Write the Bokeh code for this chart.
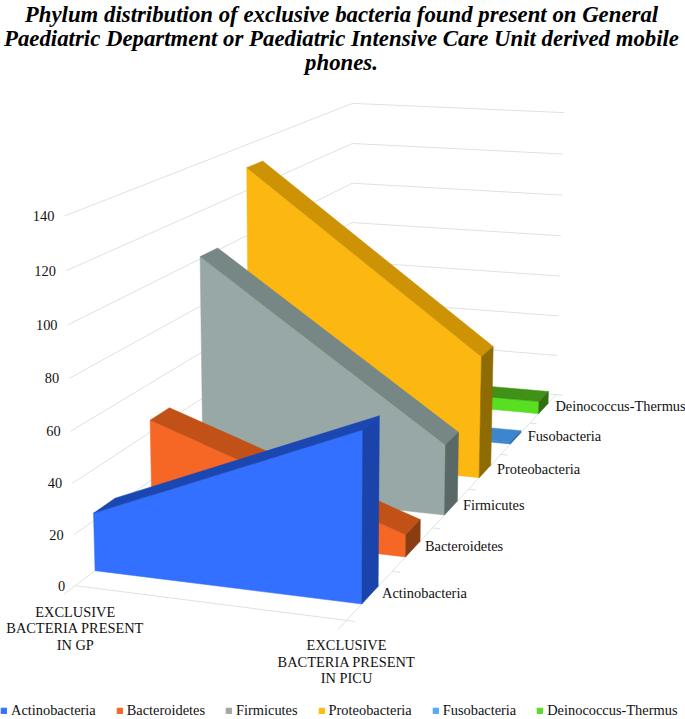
import numpy as np
from bokeh.plotting import figure
from bokeh.embed import file_html
from bokeh.resources import INLINE
from bokeh.core.properties import value
from bokeh.models import Legend, LegendItem

# ---- data ----
title_lines = ["Phylum distribution of exclusive bacteria found present on General",
               "Paediatric Department or Paediatric Intensive Care Unit derived mobile",
               "phones."]
categories = [["EXCLUSIVE", "BACTERIA PRESENT", "IN GP"],
              ["EXCLUSIVE", "BACTERIA PRESENT", "IN PICU"]]
series_names = ["Actinobacteria", "Bacteroidetes", "Firmicutes", "Proteobacteria", "Fusobacteria", "Deinococcus-Thermus"]
gp_values = [23, 45, 101, 130, 1, 6]
picu_values = [66, 9, 30, 54, 1, 6]
value_ticks = [0, 20, 40, 60, 80, 100, 120, 140]

front_colors = ["#3370FF", "#F66725", "#98A8A6", "#FCB711", "#3D86CE", "#58DF21"]
top_colors = ["#1B47B2", "#C25118", "#778786", "#CD9304", "#3D86CE", "#3F9216"]
side_colors = ["#1A44AC", "#8A3D11", "#5A6867", "#8E6C03", "#2F6AA5", "#326F10"]
legend_colors = ["#3370FF", "#F66725", "#A5A5A5", "#FFBC0F", "#55A8F5", "#5CDB2A"]
GRID = "#DAE4E2"
FONT = value("Liberation Serif")
LABEL = "14.4px"

# ---- camera: projective map (x category 0..1, value, depth 0..1) -> page pixels ----
VMAX = 140.0
calib = [((0, 0, 0), (75, 582.5)), ((1, 0, 0), (347, 622)), ((0, 0, 1), (350, 379.5)), ((1, 0, 1), (556, 392)),
         ((0, 140, 0), (63, 216.5)), ((0, 140, 1), (353.5, 102.5)), ((1, 140, 1), (563, 113)),
         ((0, 80, 0), (68, 378)), ((0, 80, 1), (352, 220.5)), ((1, 80, 1), (560, 235)), ((0, 40, 0), (72, 482.5))]
rows = []
for (x, v, z), (u, w) in calib:
    P = [x, v / VMAX, z, 1]
    rows.append(P + [0, 0, 0, 0] + [-u * a for a in P])
    rows.append([0, 0, 0, 0] + P + [-w * a for a in P])
M = np.linalg.svd(np.array(rows, float))[2][-1].reshape(3, 4)


def proj(x, v, z):
    q = M @ np.array([x, v / VMAX, z, 1.0])
    return q[0] / q[2], q[1] / q[2]


def poly(pts):
    out = [proj(*a) for a in pts]
    return [a[0] for a in out], [a[1] for a in out]


p = figure(width=685, height=719, x_range=(0, 685), y_range=(719, 0), output_backend="svg",
           toolbar_location=None, min_border=0, outline_line_color=None)
p.axis.visible = False
p.grid.visible = False

# walls
for v in value_ticks:
    xs, ys = poly([(0, v, 0), (0, v, 1), (1, v, 1)])
    p.line(xs, ys, line_color=GRID, line_width=1)
    lx, ly = proj(0, v, 0)
    p.text([lx - 10], [ly], text=[str(v)], text_font=FONT, text_font_size=LABEL, text_align="right",
           text_baseline="middle", text_color="#111111")
xs, ys = poly([(0, 0, 0), (1, 0, 0), (1, 0, 1)])
p.line(xs, ys, line_color=GRID, line_width=1)

# axis tick stubs
for x in (0, 1):
    xs, ys = poly([(x, 0, 0), (x, 0, -0.03)])
    p.line(xs, ys, line_color=GRID, line_width=1)
for i in range(7):
    xs, ys = poly([(1, 0, i / 6), (1.03, 0, i / 6)])
    p.line(xs, ys, line_color=GRID, line_width=1)

# ribbons, far to near
a = 0.32
for i in reversed(range(6)):
    z1, z2 = (i + a) / 6, (i + 1 - a) / 6
    g, c = gp_values[i], picu_values[i]
    xs, ys = poly([(0, 0, z1), (1, 0, z1), (1, c, z1), (0, g, z1)])
    p.patch(xs, ys, fill_color=front_colors[i], line_color=front_colors[i], line_width=0.5)
    xs, ys = poly([(0, g, z1), (1, c, z1), (1, c, z2), (0, g, z2)])
    p.patch(xs, ys, fill_color=top_colors[i], line_color=top_colors[i], line_width=0.5)
    xs, ys = poly([(1, 0, z1), (1, 0, z2), (1, c, z2), (1, c, z1)])
    p.patch(xs, ys, fill_color=side_colors[i], line_color=side_colors[i], line_width=0.5)

    lx, ly = proj(1, 0, (i + 0.5) / 6)
    p.text([lx + 12], [ly - 2.5], text=[series_names[i]], text_font=FONT, text_font_size=LABEL,
           text_baseline="middle", text_color="#111111")

# category labels
for x, lines, off in ((0, categories[0], 26), (1, categories[1], 25)):
    lx, ly = proj(x, 0, 0)
    for k, s in enumerate(lines):
        p.text([lx], [ly + off + k * 16.5], text=[s], text_font=FONT, text_font_size=LABEL, text_align="center",
               text_baseline="middle", text_color="#111111")

# title
for k, s in enumerate(title_lines):
    p.text([341], [14 + k * 24], text=[s], text_font=FONT, text_font_size="22.8px", text_font_style="bold italic",
           text_align="center", text_baseline="middle", text_color="#000000")

# legend
items = []
for name, col in zip(series_names, legend_colors):
    r = p.quad(left=[np.nan], right=[np.nan], top=[np.nan], bottom=[np.nan], fill_color=col, line_color=col)
    items.append(LegendItem(label=name, renderers=[r]))
leg = Legend(items=items, orientation="horizontal", location=(0, 0), glyph_width=7, glyph_height=7, label_standoff=4,
             spacing=20, margin=0, padding=0, border_line_color=None, background_fill_alpha=0,
             label_text_font="Liberation Serif", label_text_font_size=LABEL, label_text_color="#111111",
             label_height=14)
p.add_layout(leg, "center")

open("out.html", "w").write(file_html(p, INLINE))
